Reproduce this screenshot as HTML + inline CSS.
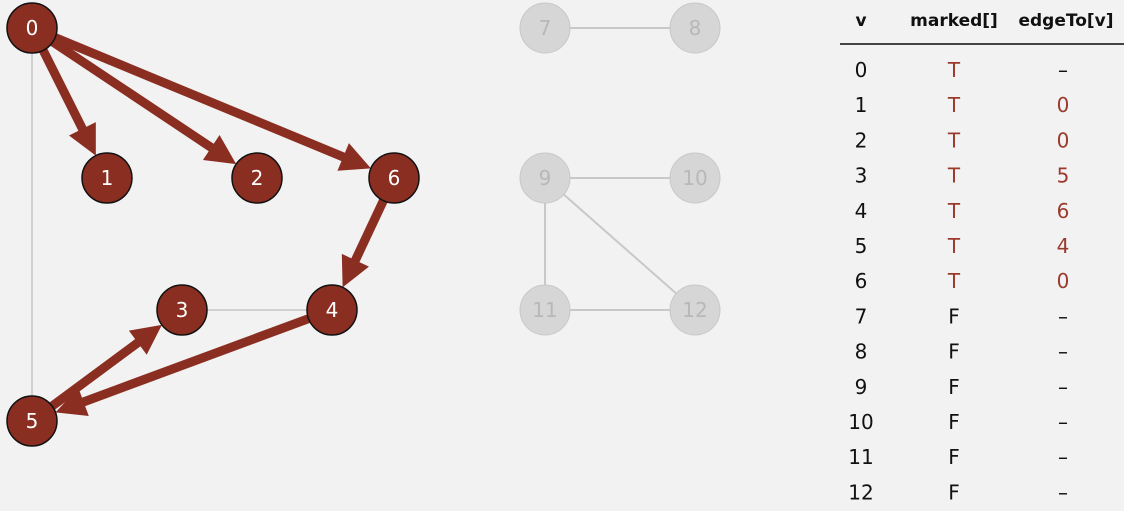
<!DOCTYPE html>
<html><head><meta charset="utf-8"><style>
html,body{margin:0;padding:0;background:#f2f2f2;}
body{width:1124px;height:511px;overflow:hidden;position:relative;font-family:"DejaVu Sans","Liberation Sans",sans-serif;}
svg{position:absolute;left:0;top:0;}
</style></head><body>
<svg id="s" width="1124" height="511" xmlns="http://www.w3.org/2000/svg">
<g id="edges"></g><g id="nodes"></g>
<line x1="840" y1="44" x2="1124" y2="44" stroke="#444" stroke-width="2"/>
<g font-size="17" text-anchor="middle" font-weight="bold" fill="#111">
<text x="861" y="26">v</text><text x="954" y="26">marked[]</text><text x="1066" y="26">edgeTo[v]</text>
</g>
<g id="tbl" font-size="20" text-anchor="middle"></g>
</svg>
<script>
var N={0:[32,28],1:[107,178],2:[257,178],6:[394,178],3:[182,310],4:[332,310],5:[32,421],
7:[545,28],8:[695,28],9:[545,178],10:[695,178],11:[545,310],12:[695,310]};
var R=25,ns="http://www.w3.org/2000/svg";
function el(p,t,a,txt){var e=document.createElementNS(ns,t);for(var k in a)e.setAttribute(k,a[k]);if(txt!==undefined)e.textContent=txt;p.appendChild(e);return e;}
var E=document.getElementById('edges'),Nd=document.getElementById('nodes');
[[0,5],[3,4]].forEach(function(p){var a=N[p[0]],b=N[p[1]];el(E,'line',{x1:a[0],y1:a[1],x2:b[0],y2:b[1],stroke:'#d0d0d0','stroke-width':2});});
[[7,8],[9,10],[9,11],[9,12],[11,12]].forEach(function(p){var a=N[p[0]],b=N[p[1]];el(E,'line',{x1:a[0],y1:a[1],x2:b[0],y2:b[1],stroke:'#c8c8c8','stroke-width':2});});
[[0,1],[0,2],[0,6],[6,4],[4,5],[5,3]].forEach(function(p){var a=N[p[0]],b=N[p[1]];
var dx=b[0]-a[0],dy=b[1]-a[1],L=Math.hypot(dx,dy),ux=dx/L,uy=dy/L;
var tx=b[0]-ux*R,ty=b[1]-uy*R,hl=30,hw=15;
var bx=tx-ux*hl,by=ty-uy*hl;
el(E,'line',{x1:a[0]+ux*R*0.8,y1:a[1]+uy*R*0.8,x2:bx+ux*2,y2:by+uy*2,stroke:'#8b2e22','stroke-width':9});
el(E,'polygon',{points:tx+','+ty+' '+(bx-uy*hw)+','+(by+ux*hw)+' '+(bx+uy*hw)+','+(by-ux*hw),fill:'#8b2e22'});});
for(var k in N){var c=N[k],g=k>=7;
el(Nd,'circle',{cx:c[0],cy:c[1],r:R,fill:g?'#d6d6d6':'#8b2e22',stroke:g?'#c8c8c8':'#111','stroke-width':g?1:1.5});
el(Nd,'text',{x:c[0],y:c[1]+7,'text-anchor':'middle','font-size':20,fill:g?'#b8b8b8':'#fff'},k);}
var T=document.getElementById('tbl');
var et=['–','0','0','5','6','4','0','–','–','–','–','–','–'];
for(var i=0;i<13;i++){var y=77+i*35.2,m=i<7;
el(T,'text',{x:861,y:y,fill:'#111'},String(i));
el(T,'text',{x:954,y:y,fill:m?'#9b3a2c':'#111'},m?'T':'F');
el(T,'text',{x:1063,y:y,fill:et[i]=='–'?'#111':'#9b3a2c'},et[i]);}
</script>
</body></html>
